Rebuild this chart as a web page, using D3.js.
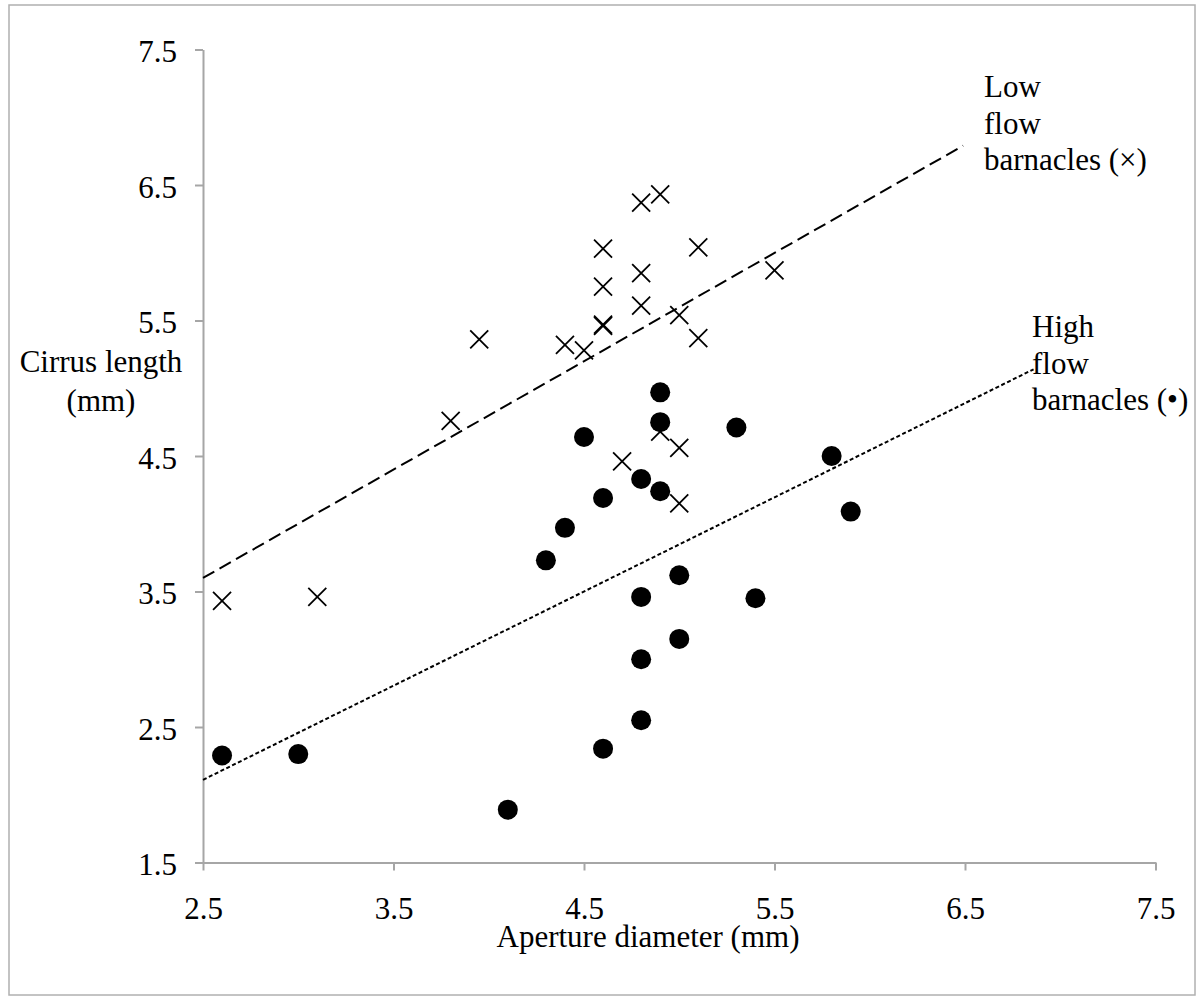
<!DOCTYPE html>
<html>

<head>
  <meta charset="utf-8">
  <title>Cirrus length vs aperture diameter</title>
  <script src="https://cdn.jsdelivr.net/npm/d3@7"></script>
  <style>
    body { margin: 0; background: #fff; }
    svg text { font-family: "Liberation Serif", "DejaVu Serif", serif; fill: #000; }
  </style>
</head>

<body>
  <script type="text/javascript">
    // low flow barnacles (crosses)
    var lowX = [2.6, 3.1, 3.8, 3.95, 4.4, 4.5, 4.6, 4.6, 4.6, 4.6, 4.7, 4.8, 4.8, 4.8, 4.9, 4.9, 5.0, 5.0, 5.0, 5.1, 5.1, 5.5];
    var lowY = [3.43, 3.46, 4.76, 5.36, 5.32, 5.28, 6.03, 5.75, 5.47, 5.46, 4.46, 6.37, 5.85, 5.61, 6.43, 4.68, 5.54, 4.56, 4.15, 6.04, 5.37, 5.87];

    // high flow barnacles (dots)
    var highX = [2.6, 3.0, 4.1, 4.3, 4.4, 4.5, 4.6, 4.6, 4.8, 4.8, 4.8, 4.8, 4.9, 4.9, 4.9, 5.0, 5.0, 5.3, 5.4, 5.8, 5.9];
    var highY = [2.29, 2.30, 1.89, 3.73, 3.97, 4.64, 4.19, 2.34, 4.33, 3.46, 3.00, 2.55, 4.97, 4.75, 4.24, 3.62, 3.15, 4.71, 3.45, 4.50, 4.09];

    // trendline end points [x, y]
    var lowTrend = [[2.5, 3.60], [6.49, 6.79]];
    var highTrend = [[2.5, 2.11], [6.86, 5.14]];

    var xTicks = [2.5, 3.5, 4.5, 5.5, 6.5, 7.5];
    var yTicks = [1.5, 2.5, 3.5, 4.5, 5.5, 6.5, 7.5];

    var w = 1204;
    var h = 1003;
    var fs = 31;
    var serif = "'Liberation Serif', 'DejaVu Serif', serif";

    var svg = d3.select("body")
      .append("svg")
      .attr("width", w)
      .attr("height", h)
      .attr("font-family", serif);

    // chart frame
    svg.append("rect")
      .attr("x", 9)
      .attr("y", 5)
      .attr("width", 1186)
      .attr("height", 990)
      .attr("fill", "none")
      .attr("stroke", "#b0b0b0")
      .attr("stroke-width", 1.5);

    var x = d3.scaleLinear().domain([2.5, 7.5]).range([203, 1155.5]);
    var y = d3.scaleLinear().domain([1.5, 7.5]).range([862.5, 49.5]);

    // axes
    var yAxis = svg.append("g")
      .attr("transform", "translate(" + x(2.5) + ",0)")
      .call(d3.axisLeft(y).tickValues(yTicks).tickSize(8).tickSizeOuter(0).tickFormat(d3.format(".1f")));

    var xAxis = svg.append("g")
      .attr("transform", "translate(0," + y(1.5) + ")")
      .call(d3.axisBottom(x).tickValues(xTicks).tickSize(8).tickSizeOuter(0).tickFormat(d3.format(".1f")));

    [xAxis, yAxis].forEach(function(g) {
      g.attr("font-family", serif).attr("font-size", fs);
      g.select(".domain").attr("stroke", "#a6a6a6").attr("stroke-width", 2);
      g.selectAll(".tick line").attr("stroke", "#a6a6a6").attr("stroke-width", 2);
      g.selectAll(".tick text")
        .style("font-family", serif)
        .style("font-size", fs + "px")
        .attr("fill", "#000");
    });
    yAxis.selectAll(".tick text").attr("x", -26).attr("dy", "0.39em");
    xAxis.selectAll(".tick text").attr("y", 56.5).attr("dy", 0);

    // axis titles
    svg.append("text")
      .attr("x", 648)
      .attr("y", 947)
      .attr("text-anchor", "middle")
      .style("font-family", serif)
      .style("font-size", fs + "px")
      .text("Aperture diameter (mm)");

    var yTitle = svg.append("text")
      .attr("text-anchor", "middle")
      .style("font-family", serif)
      .style("font-size", fs + "px");
    yTitle.append("tspan").attr("x", 101).attr("y", 372).text("Cirrus length");
    yTitle.append("tspan").attr("x", 101).attr("y", 411).text("(mm)");

    // crosses
    var lowData = lowX.map(function(d, i) { return [d, lowY[i]]; });
    var cs = 9;
    svg.append("g")
      .selectAll("path")
      .data(lowData)
      .enter()
      .append("path")
      .attr("d", function(d) {
        var cx = x(d[0]), cy = y(d[1]);
        return "M" + (cx - cs) + "," + (cy - cs) + "L" + (cx + cs) + "," + (cy + cs) +
          "M" + (cx - cs) + "," + (cy + cs) + "L" + (cx + cs) + "," + (cy - cs);
      })
      .attr("stroke", "#000")
      .attr("stroke-width", 1.8)
      .attr("fill", "none");

    // dots
    var highData = highX.map(function(d, i) { return [d, highY[i]]; });
    svg.append("g")
      .selectAll("circle")
      .data(highData)
      .enter()
      .append("circle")
      .attr("cx", function(d) { return x(d[0]); })
      .attr("cy", function(d) { return y(d[1]); })
      .attr("r", 10)
      .attr("fill", "#000");

    // trendlines
    var line = d3.line()
      .x(function(d) { return x(d[0]); })
      .y(function(d) { return y(d[1]); });

    svg.append("path")
      .attr("d", line(lowTrend))
      .attr("stroke", "#000")
      .attr("stroke-width", 2)
      .attr("stroke-dasharray", "13,6")
      .attr("fill", "none");

    svg.append("path")
      .attr("d", line(highTrend))
      .attr("stroke", "#000")
      .attr("stroke-width", 2)
      .attr("stroke-dasharray", "4,2.5")
      .attr("fill", "none");

    // series labels
    function label(lines, lx, ly, step) {
      var t = svg.append("text")
        .style("font-family", serif)
        .style("font-size", fs + "px");
      lines.forEach(function(s, i) {
        t.append("tspan").attr("x", lx).attr("y", ly + i * step).text(s);
      });
    }
    label(["Low", "flow", "barnacles (\u00d7)"], 984, 97, 36.7);
    label(["High", "flow", "barnacles (\u2022)"], 1032, 337, 36.7);
  </script>

</body>

</html>
